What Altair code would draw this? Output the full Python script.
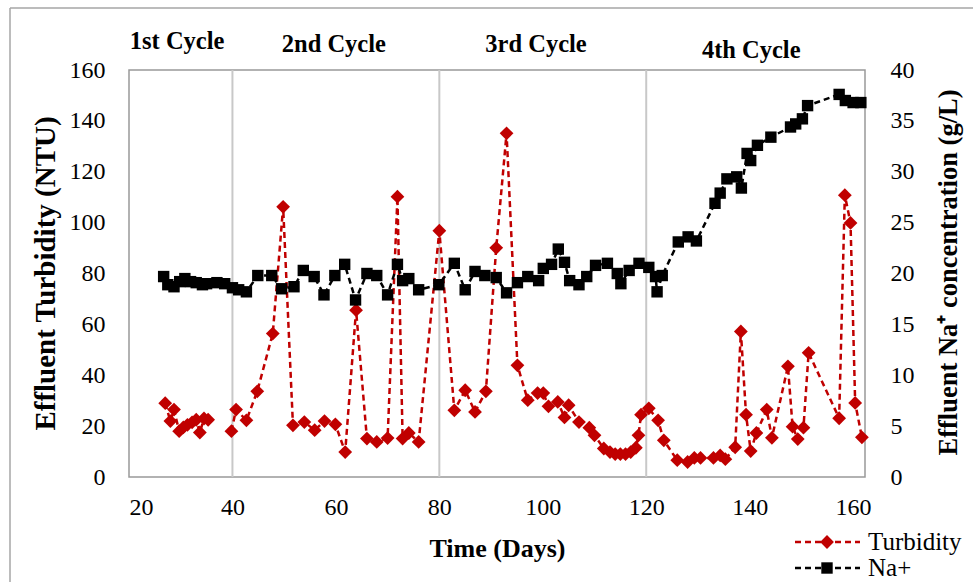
import altair as alt
import pandas as pd

# ---- data ----
turb_day = [27, 28, 28.7, 29.7, 30.5, 31.3, 32.2, 33, 33.7, 34.5, 35.3,
            39.8, 40.7, 42.7, 44.8, 47.8, 49.8, 51.7, 53.9, 55.9, 57.8,
            59.9, 61.8, 63.9, 66, 67.9, 70, 71.9, 72.9, 74.1, 76,
            80, 82.9, 85, 86.9, 89, 91, 93, 95.1, 97.1, 99,
            100.1, 101.1, 102.9, 104.2, 105, 107, 109, 110, 111.8, 113,
            114, 115, 116, 117, 118, 118.5, 119, 120.5, 122.3, 123.4,
            126, 128, 129.3, 130.5, 133, 134.3, 135.3, 137.2, 138.3, 139.3,
            140.2, 141.3, 143.3, 144.3, 147.4, 148.3, 149.3, 150.4, 151.4, 157.3,
            158.4, 159.5, 160.4, 161.7]
turbidity = [29, 22, 26.5, 18, 19.5, 20.5, 21.5, 22.5, 17.5, 23, 22.5,
             18, 26.5, 22.3, 33.7, 56.4, 106.2, 20.3, 21.6, 18.4, 22,
             20.7, 9.8, 65.6, 15.1, 13.8, 15.3, 110.2, 15.1, 17.3, 13.8,
             96.8, 26.2, 34.1, 25.6, 33.7, 90.1, 135.1, 43.9, 30.2, 33,
             33, 27.8, 29.5, 23.4, 28.2, 21.6, 19.4, 16.4, 11.2, 9.8,
             9, 9, 9, 9.8, 11.5, 16.4, 24.5, 27, 22.3, 14.4,
             6.6, 5.9, 7.5, 7.5, 7.5, 8.5, 7, 11.7, 57.2, 24.5,
             10.2, 17.3, 26.5, 15.4, 43.5, 19.8, 14.9, 19.4, 48.8, 23.1,
             110.8, 99.9, 29.1, 15.6]

na_day = [26.7, 27.5, 28.7, 29.8, 30.8, 31.9, 33, 34.2, 35,
          37, 38.5, 40, 41.2, 42.7,
          44.9, 47.6, 49.5, 51.9, 53.7, 55.8, 57.7, 59.8, 61.7, 63.8,
          66, 67.9, 70, 71.9, 72.9, 74.1, 76, 79.9,
          82.9, 85, 86.9, 88.8, 91, 93, 95.1, 97.1, 99.2, 100.1,
          101.7, 103, 104.2, 105.2, 107, 108.5, 110.2, 112.5, 114.4, 115.1,
          116.7, 118.6, 120.5, 121.8, 122.1, 123.1, 126.2, 128.1, 129.7,
          133.3, 134.3, 135.6, 137.5, 138.4, 139.5, 140.2, 141.5, 144.1,
          147.9, 148.9, 150.2, 151.2, 157.3, 158.5, 160, 161.5]
sodium = [19.7, 18.9, 18.7, 19.2, 19.5, 19.2, 19.1, 18.9, 19.0,
          19.1, 19.0, 18.6, 18.4, 18.2,
          19.8, 19.8, 18.5, 18.7, 20.3, 19.7, 17.9, 19.8, 20.9, 17.4,
          20.0, 19.8, 17.9, 20.9, 19.3, 19.5, 18.4, 18.9,
          21.0, 18.4, 20.2, 19.8, 19.6, 18.1, 19.1, 19.7, 19.3, 20.5,
          20.9, 22.4, 21.1, 19.3, 18.9, 19.7, 20.8, 21.0, 20.0, 19.0,
          20.3, 21.0, 20.6, 19.7, 18.2, 19.8, 23.1, 23.6, 23.2,
          26.9, 27.9, 29.3, 29.5, 28.4, 31.8, 31.1, 32.6, 33.4,
          34.4, 34.7, 35.2, 36.5, 37.6, 37.0, 36.8, 36.8]

cycle_bounds = [40, 80, 120]
cycle_names = ["1st Cycle", "2nd Cycle", "3rd Cycle", "4th Cycle"]
cycle_centers = [29.3, 59.6, 98.7, 140.3]
cycle_label_level = [171, 170, 170, 167.5]
legend_labels = ["Turbidity", "Na+"]
x_ticks = [20, 40, 60, 80, 100, 120, 140, 160]
left_ticks = [0, 20, 40, 60, 80, 100, 120, 140, 160]
right_ticks = [0, 5, 10, 15, 20, 25, 30, 35, 40]

RED = "#C00000"
FONT = "Liberation Serif"
W, H = 736, 407

turb_df = pd.DataFrame({"day": turb_day, "turb": turbidity})
turb_df["seg"] = [0 if d < 38 else 1 for d in turb_day]
na_df = pd.DataFrame({"day": na_day, "na": sodium})
cyc_df = pd.DataFrame({"day": cycle_bounds})
lab_df = pd.DataFrame({"day": cycle_centers, "lvl": cycle_label_level, "name": cycle_names})

xs = alt.Scale(domain=[20, 162.3], nice=False, zero=False)
xaxis = alt.Axis(title="Time (Days)", values=x_ticks, labelPadding=18,
                 titleFontSize=26, titleY=71, titleBaseline="middle")
ys_l = alt.Scale(domain=[0, 160], nice=False)
ys_r = alt.Scale(domain=[0, 40], nice=False)

cyc_lines = alt.Chart(cyc_df).mark_rule(color="#c8c8c8", strokeWidth=2).encode(
    x=alt.X("day:Q", scale=xs, axis=xaxis))

turb_line = alt.Chart(turb_df).mark_line(color=RED, strokeWidth=2.5, strokeDash=[6, 4]).encode(
    x=alt.X("day:Q", scale=xs, axis=xaxis),
    y=alt.Y("turb:Q", scale=ys_l,
            axis=alt.Axis(title="Effluent Turbidity (NTU)", values=left_ticks, orient="left",
                          labelPadding=24, titleFontSize=29, titleAngle=270,
                          titleX=-84, titleY=203, titleAlign="center", titleBaseline="middle")),
    detail="seg:N")
turb_pts = alt.Chart(turb_df).mark_point(shape="diamond", filled=True, size=190, color=RED, opacity=1).encode(
    x="day:Q", y="turb:Q")
cyc_text = alt.Chart(lab_df).mark_text(font=FONT, fontSize=24.5, fontWeight="bold", color="black",
                                       baseline="middle", align="center").encode(
    x="day:Q", y="lvl:Q", text="name:N")

left = alt.layer(cyc_lines, turb_line, turb_pts, cyc_text)

na_line = alt.Chart(na_df).mark_line(color="black", strokeWidth=2.5, strokeDash=[6, 4]).encode(
    x=alt.X("day:Q", scale=xs),
    y=alt.Y("na:Q", scale=ys_r,
            axis=alt.Axis(title="Effluent Na⁺ concentration (g/L)", values=right_ticks, orient="right",
                          labelPadding=25, titleFontSize=26.5, titleAngle=270, titleX=83, titleY=202,
                          titleAlign="center", titleBaseline="middle")))
na_pts = alt.Chart(na_df).mark_point(shape="square", filled=True, size=130, color="black", opacity=1).encode(
    x="day:Q", y="na:Q")
right = alt.layer(na_line, na_pts)

# legend (drawn in the bottom-right margin)
leg1 = pd.DataFrame({"label": [legend_labels[0]]})
leg2 = pd.DataFrame({"label": [legend_labels[1]]})
LX0, LX1, LXM, LXT = 666, 731, 698, 739
LY1, LY2 = 472, 498
legend = alt.layer(
    alt.Chart(leg1).mark_rule(color=RED, strokeWidth=2.5, strokeDash=[6, 4]).encode(
        x=alt.value(LX0), x2=alt.value(LX1), y=alt.value(LY1)),
    alt.Chart(leg1).mark_point(shape="diamond", filled=True, size=190, color=RED, opacity=1).encode(
        x=alt.value(LXM), y=alt.value(LY1)),
    alt.Chart(leg1).mark_text(font=FONT, fontSize=25, align="left", baseline="middle").encode(
        x=alt.value(LXT), y=alt.value(LY1), text="label:N"),
    alt.Chart(leg2).mark_rule(color="black", strokeWidth=2.5, strokeDash=[6, 4]).encode(
        x=alt.value(LX0), x2=alt.value(LX1), y=alt.value(LY2)),
    alt.Chart(leg2).mark_point(shape="square", filled=True, size=130, color="black", opacity=1).encode(
        x=alt.value(LXM), y=alt.value(LY2)),
    alt.Chart(leg2).mark_text(font=FONT, fontSize=25, align="left", baseline="middle").encode(
        x=alt.value(LXT), y=alt.value(LY2), text="label:N"),
)

# outer chart frame (top and left edges visible in the reference)
frame_df = pd.DataFrame({"k": [0]})
frame = alt.layer(
    alt.Chart(frame_df).mark_rule(color="#a6a6a6", strokeWidth=1.5).encode(
        x=alt.value(-119), x2=alt.value(850), y=alt.value(-62)),
    alt.Chart(frame_df).mark_rule(color="#a6a6a6", strokeWidth=1.5).encode(
        x=alt.value(-119), y=alt.value(-62), y2=alt.value(520)),
)

chart = alt.layer(left, right, legend, frame).resolve_scale(y="independent").properties(
    width=W, height=H,
    padding={"left": 129, "top": 70, "right": 108, "bottom": 105},
    autosize=alt.AutoSizeParams(type="none"),
    background="white",
).configure_view(stroke="#999999", strokeWidth=1.5).configure_axis(
    grid=False, ticks=False, domain=False,
    labelFont=FONT, labelFontSize=24, labelColor="black",
    titleFont=FONT, titleFontWeight="bold", titleColor="black",
)

chart.save("out.html", embed_options={"renderer": "svg", "actions": False})
